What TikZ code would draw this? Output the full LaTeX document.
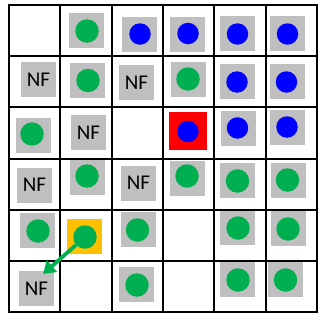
\documentclass[tikz,border=0pt]{standalone}
\usepackage{fontspec}
\setmainfont{Carlito}
\usetikzlibrary{arrows.meta}
\definecolor{dotgreen}{HTML}{00B050}
\definecolor{boxgray}{HTML}{BFBFBF}
\definecolor{hiorange}{HTML}{FFC000}
\begin{document}
\begin{tikzpicture}[x=1pt, y=-1pt,
  graybox/.style={fill=boxgray, minimum size=35pt, inner sep=0pt},
  nfbox/.style={graybox, font=\fontsize{21}{25}\selectfont},
  gdot/.style={circle, fill=dotgreen, minimum size=23.5pt, inner sep=0pt},
  bdot/.style={circle, fill=blue, minimum size=21.5pt, inner sep=0pt}]
\useasboundingbox (0,0) rectangle (321,324);
% row 1
\node[graybox] (b01) at (86.5,30.5) {};  \node[gdot] (d01) at (87,31) {};
\node[graybox] (b02) at (139.5,34.5) {}; \node[bdot] (d02) at (140,34) {};
\node[graybox] (b03) at (187.5,34.5) {}; \node[bdot] (d03) at (188,33.5) {};
\node[graybox] (b04) at (237.5,33.5) {}; \node[bdot] (d04) at (237.5,34) {};
\node[graybox] (b05) at (287.5,33.5) {}; \node[bdot] (d05) at (287.5,34) {};
% row 2
\node[nfbox] (n10) at (38.5,79.5) {NF};
\node[graybox] (b11) at (87.5,80.5) {};  \node[gdot] (d11) at (88,80.5) {};
\node[nfbox] (n12) at (136.5,82.5) {NF};
\node[graybox] (b13) at (188.5,79.5) {}; \node[gdot] (d13) at (188,79) {};
\node[graybox] (b14) at (237.5,81.5) {}; \node[bdot] (d14) at (237,82) {};
\node[graybox] (b15) at (287.5,81.5) {}; \node[bdot] (d15) at (286.5,82) {};
% row 3
\node[graybox] (b20) at (33.5,135.5) {}; \node[gdot] (d20) at (32,134) {};
\node[nfbox] (n21) at (88.5,132.5) {NF};
\node[fill=red, minimum size=38pt, inner sep=0pt] (r23) at (188,131) {};
\node[bdot] (d23) at (188,131.5) {};
\node[graybox] (b24) at (238.5,128.5) {}; \node[bdot] (d24) at (237.5,128) {};
\node[graybox] (b25) at (287.5,127.5) {}; \node[bdot] (d25) at (287,127) {};
% row 4
\node[nfbox] (n30) at (34.5,185) {NF};
\node[graybox] (b31) at (87.5,177.5) {}; \node[gdot] (d31) at (87,176) {};
\node[nfbox] (n32) at (138.5,183) {NF};
\node[graybox] (b33) at (187.5,178) {}; \node[gdot] (d33) at (187,176) {};
\node[graybox] (b34) at (237.5,180.5) {}; \node[gdot] (d34) at (237.5,181) {};
\node[graybox] (b35) at (288.5,180.5) {}; \node[gdot] (d35) at (287.5,180) {};
% row 5
\node[graybox] (b40) at (37.5,230.5) {}; \node[gdot] (d40) at (38,231) {};
\node[fill=hiorange, minimum size=35pt, inner sep=0pt] (o41) at (84.5,236.5) {};
\node[gdot] (d41) at (85,237) {};
\node[graybox] (b42) at (138.5,229.5) {}; \node[gdot] (d42) at (137.5,230) {};
\node[graybox] (b44) at (237.5,227.5) {}; \node[gdot] (d44) at (238,228) {};
\node[graybox] (b45) at (288.5,228.5) {}; \node[gdot] (d45) at (288,229) {};
% row 6
\node[nfbox] (n50) at (36.5,288.5) {NF};
\node[graybox] (b52) at (136.5,284.5) {}; \node[gdot] (d52) at (137,285) {};
\node[graybox] (b54) at (237.5,279.5) {}; \node[gdot] (d54) at (238,280) {};
\node[graybox] (b55) at (285.5,279.5) {}; \node[gdot] (d55) at (285.5,280) {};
% grid
\foreach \i in {0,...,6} {
  \draw[line width=2pt] ({9+\i*51.33},4) -- ({9+\i*51.33},313);
  \draw[line width=2pt] (8,{5+\i*51.17}) -- (318,{5+\i*51.17});
}
% move
\coordinate (tip) at (43,274);
\draw[-{Triangle[length=12pt, width=15pt]}, line width=3.8pt, dotgreen] (d41) -- (tip);
\end{tikzpicture}
\end{document}
